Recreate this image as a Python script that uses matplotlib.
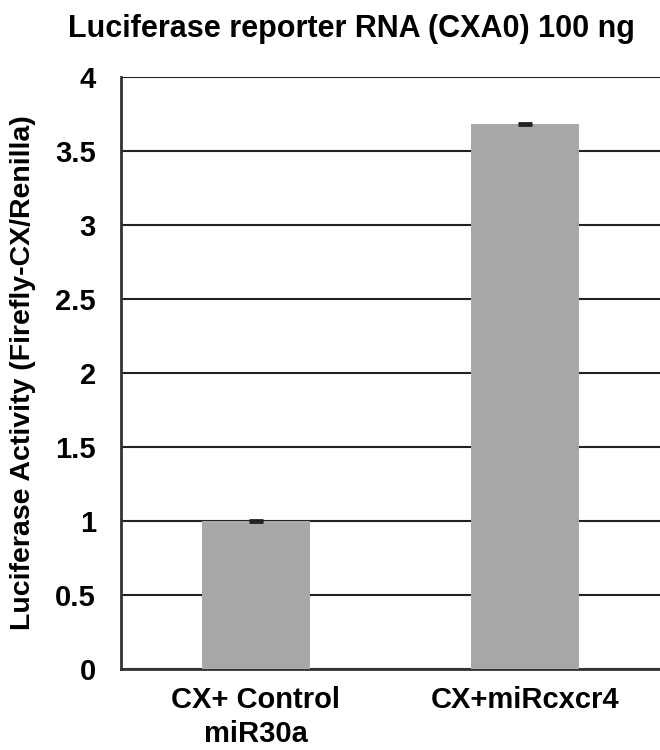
import numpy as np
import matplotlib.pyplot as plt

plt.rcParams['font.family'] = ['Liberation Sans', 'DejaVu Sans']
plt.rcParams['font.weight'] = 'bold'

categories = ["CX+ Control\nmiR30a", "CX+miRcxcr4"]
values = [1.0, 3.68]
errors = [0.005, 0.008]
yticks = [0, 0.5, 1, 1.5, 2, 2.5, 3, 3.5, 4]

fig = plt.figure(figsize=(6.6, 7.5), dpi=100)
ax = fig.add_axes([0.183, 0.108, 0.817, 0.790])

x = np.arange(len(categories))
ax.bar(x, values, width=0.4, color="#a8a8a8", zorder=3,
       yerr=errors, capsize=5, error_kw=dict(ecolor="#222222", elinewidth=1.5, capthick=2))

ax.set_xlim(-0.5, 1.5)
ax.set_ylim(0, 4)
ax.set_yticks(yticks)
ax.set_yticklabels([f"{t:g}" for t in yticks], fontsize=21, fontweight="bold")
ax.set_xticks(x)
ax.set_xticklabels(categories, fontsize=21, fontweight="bold", linespacing=1.3)
ax.tick_params(axis="y", length=0, pad=18)
ax.tick_params(axis="x", length=0, pad=12)

ax.grid(axis="y", color="#222222", linewidth=1.5, zorder=0)
ax.set_axisbelow(True)
for s in ["top", "right"]:
    ax.spines[s].set_visible(False)
for s in ["left", "bottom"]:
    ax.spines[s].set_linewidth(2)
    ax.spines[s].set_color("#333333")

ax.set_ylabel("Luciferase Activity (Firefly-CX/Renilla)", fontsize=20.5,
              fontweight="bold", labelpad=14)
fig.text(0.533, 0.962, "Luciferase reporter RNA (CXA0) 100 ng", ha="center", va="center",
         fontsize=22, fontweight="bold")

fig.savefig("out.png", dpi=100)
